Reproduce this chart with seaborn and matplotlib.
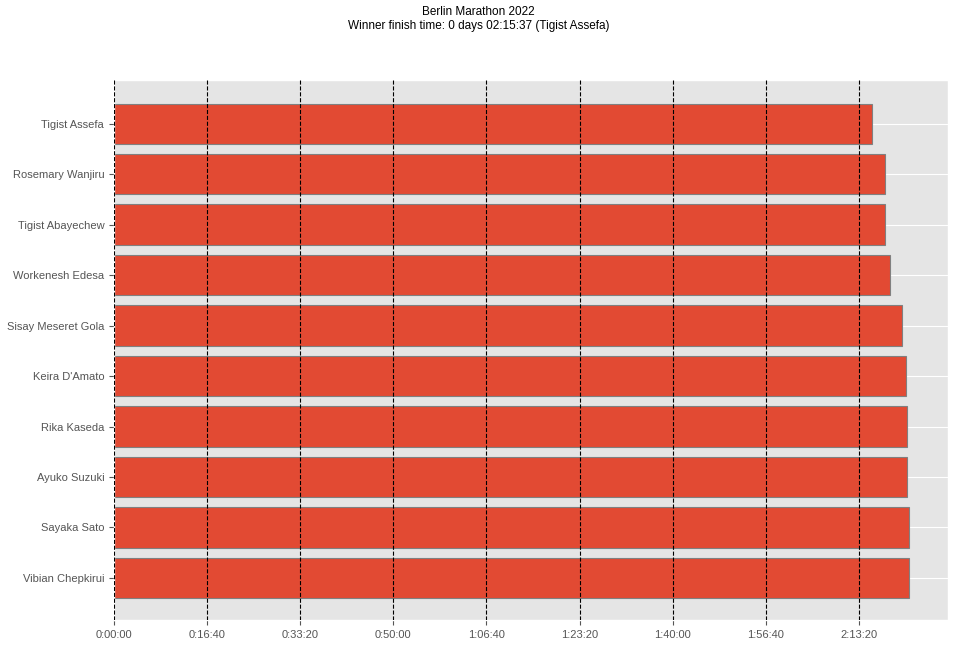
import matplotlib
matplotlib.use("Agg")
import matplotlib.pyplot as plt
import seaborn as sns
import pandas as pd

names = ["Tigist Assefa", "Rosemary Wanjiru", "Tigist Abayechew", "Workenesh Edesa",
         "Sisay Meseret Gola", "Keira D'Amato", "Rika Kaseda", "Ayuko Suzuki",
         "Sayaka Sato", "Vibian Chepkirui"]
times = ["2:15:37", "2:18:00", "2:18:03", "2:18:51", "2:20:58", "2:21:48",
         "2:21:55", "2:21:56", "2:22:13", "2:22:21"]

def secs(t):
    h, m, s = map(int, t.split(":"))
    return h * 3600 + m * 60 + s

df = pd.DataFrame({"name": names, "seconds": [secs(t) for t in times]})

plt.style.use("ggplot")
plt.rcParams["font.family"] = ["Liberation Sans", "DejaVu Sans"]
fig = plt.figure(figsize=(9.57, 6.49), dpi=100)
ax = fig.add_axes([0.119, 0.045, 0.872, 0.832])
sns.barplot(data=df, y="name", x="seconds", orient="h", color="#E24A33",
            saturation=1, edgecolor="grey", linewidth=0.8, width=0.8, ax=ax)
ticks = list(range(0, 9000, 1000))
def fmt(v):
    return f"{v//3600}:{(v%3600)//60:02d}:{v%60:02d}"
ax.set_xticks(ticks)
ax.set_xticklabels([fmt(t) for t in ticks])
for t in ticks:
    ax.axvline(t, color="black", linestyle="--", linewidth=0.8, zorder=3)
ax.set_xlim(0, 8960)
ax.set_ylim(9.83, -0.87)
ax.grid(axis="x", visible=False)
ax.grid(axis="y", visible=True, color="white", linewidth=0.8)
ax.set_axisbelow(True)
ax.set_xlabel("")
ax.set_ylabel("")
ax.tick_params(labelsize=8, colors="#555555")
fig.suptitle("Berlin Marathon 2022\nWinner finish time: 0 days 02:15:37 (Tigist Assefa)",
             fontsize=8.5, y=0.99)
fig.savefig("out.png", dpi=100)
